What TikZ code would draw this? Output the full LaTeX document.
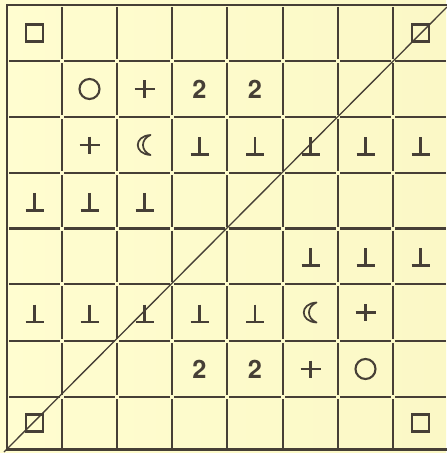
\documentclass[tikz,border=0pt]{standalone}
\usepackage{fontspec}
\newfontfamily\digitfont{TeX Gyre Heros}
\definecolor{ink}{HTML}{463F36}
\definecolor{bgl}{HTML}{FFFDD0}
\definecolor{bgr}{HTML}{FBF8C6}
\tikzset{
  gridline/.style={draw=ink, line width=1.6pt},
  diagline/.style={draw=ink, line width=1pt},
  sq/.pic={\draw[ink, line width=2pt] (-8.5,-8.5) rectangle (8.5,8.5);},
  circ/.pic={\draw[ink, line width=1.6pt] (0,0) circle[radius=10];},
  plussign/.pic={\draw[ink, line width=1.6pt] (-10,0) -- (10,0) (0,-8.5) -- (0,8.5);},
  perp/.pic={\draw[ink, line width=2pt] (0,-8) -- (0,9.5) (-9,9.5) -- (9,9.5);},
  moon/.pic={\draw[ink, line width=1.3pt, line join=round]
     (6,-10) .. controls (-11,-9) and (-11,9) .. (6,10)
     .. controls (-4,6) and (-4,-6) .. cycle;},
  two/.style={font=\digitfont\bfseries\fontsize{19}{19}\selectfont, text=ink, inner sep=0pt}
}
\begin{document}
\begin{tikzpicture}[x=0.75pt, y=-0.75pt]
\shade[left color=bgl, right color=bgr] (0,0) rectangle (446,453);
\useasboundingbox (0,0) rectangle (446,453);
\def\V{{7,62,117,172,227,283,338,393,448}}
\def\H{{5,61,117,173,228.5,284,341,397,449.5}}
% inner horizontal lines, broken at crossings
\foreach \j in {1,...,7} {
  \foreach \i in {0,...,7} {
    \pgfmathsetmacro\xa{\V[\i]+2}
    \pgfmathsetmacro\xb{\V[\i+1]-2}
    \pgfmathsetmacro\yy{\H[\j]}
    \draw[gridline] (\xa,\yy) -- (\xb,\yy);
  }
}
% inner vertical lines, broken at crossings
\foreach \i in {1,...,7} {
  \foreach \j in {0,...,7} {
    \pgfmathsetmacro\ya{\H[\j]+2}
    \pgfmathsetmacro\yb{\H[\j+1]-2}
    \pgfmathsetmacro\xx{\V[\i]}
    \draw[gridline] (\xx,\ya) -- (\xx,\yb);
  }
}
% border (right edge lies outside the picture)
\draw[gridline] (448,449.5) -- (7,449.5) -- (7,5) -- (448,5);
% cell centres
\foreach \x [count=\i] in {34.5,89.5,144.5,199.5,255,310.5,365.5,420.5} {
  \foreach \y [count=\j] in {33,89,145,200.75,256.25,312.5,369,423.25} {
    \coordinate (c-\i-\j) at (\x,\y);
  }
}
% diagonal
\coordinate (dstart) at (4,452);
\coordinate (dend) at (447,7);
\draw[diagline] (dstart) -- (dend);
% row 1
\pic at (c-1-1) {sq};
\pic at (c-8-1) {sq};
% row 2
\pic at (c-2-2) {circ};
\pic at (c-3-2) {plussign};
\node[two] (t1) at (c-4-2) {2};
\node[two] (t2) at (c-5-2) {2};
% row 3
\pic at (c-2-3) {plussign};
\pic at (c-3-3) {moon};
\foreach \i in {4,...,8} \pic at (c-\i-3) {perp};
% row 4
\foreach \i in {1,...,3} \pic at (c-\i-4) {perp};
% row 5
\foreach \i in {6,...,8} \pic at (c-\i-5) {perp};
% row 6
\foreach \i in {1,...,5} \pic at (c-\i-6) {perp};
\pic at (c-6-6) {moon};
\pic at (c-7-6) {plussign};
% row 7
\node[two] (t3) at (c-4-7) {2};
\node[two] (t4) at (c-5-7) {2};
\pic at (c-6-7) {plussign};
\pic at (c-7-7) {circ};
% row 8
\pic at (c-1-8) {sq};
\pic at (c-8-8) {sq};
\end{tikzpicture}
\end{document}
